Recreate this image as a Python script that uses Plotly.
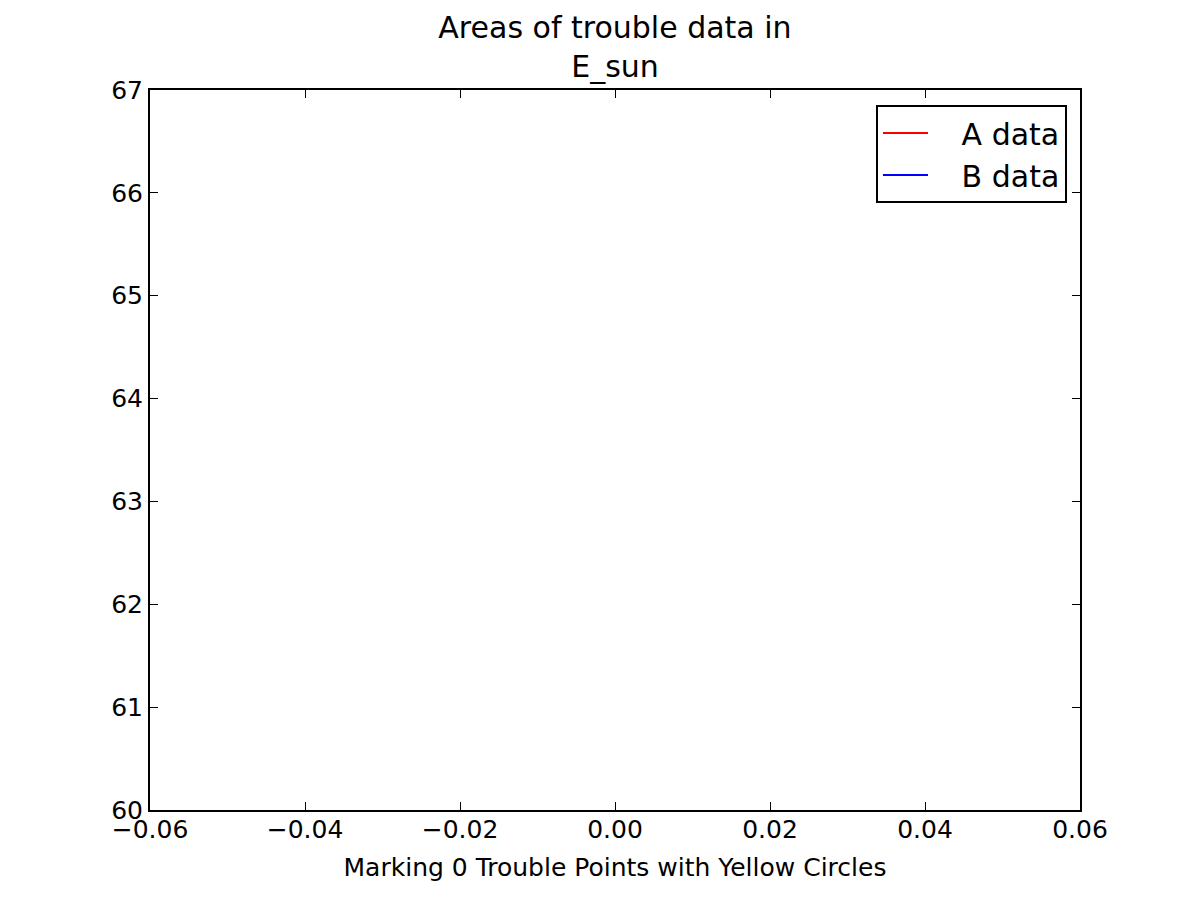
import plotly.graph_objects as go

# Data (the reference chart has no visible plotted points)
a_x = [None]
a_y = [None]
b_x = [None]
b_y = [None]
x_ticks = [-0.06, -0.04, -0.02, 0.00, 0.02, 0.04, 0.06]
y_ticks = [60, 61, 62, 63, 64, 65, 66, 67]
series_names = ["A data", "B data"]
n_trouble = 0

FONT = "DejaVu Sans"
OFF = 8  # default page body margin
PAD = "\u00a0\u00a0\u00a0"  # gap between legend line and label

fig = go.Figure()
fig.add_trace(go.Scatter(x=a_x, y=a_y, mode="lines", name=PAD + series_names[0],
                         line=dict(color="red", width=2)))
fig.add_trace(go.Scatter(x=b_x, y=b_y, mode="lines", name=PAD + series_names[1],
                         line=dict(color="blue", width=2)))

axis_common = dict(
    showline=True, linecolor="black", linewidth=2, mirror="allticks",
    ticks="inside", ticklen=8, tickwidth=1, tickcolor="black",
    showgrid=False, zeroline=False, automargin=False,
    tickfont=dict(family=FONT, size=25, color="black"),
)

fig.update_xaxes(range=[x_ticks[0], x_ticks[-1]], tickvals=x_ticks,
                 tickformat=".2f", ticklabelstandoff=-4,
                 title=dict(text=f"Marking {n_trouble} Trouble Points with Yellow Circles",
                            font=dict(family=FONT, size=25, color="black"),
                            standoff=15),
                 **axis_common)
fig.update_yaxes(range=[y_ticks[0], y_ticks[-1]], tickvals=y_ticks,
                 **axis_common)

fig.update_layout(
    template="none",
    width=1200, height=900,
    paper_bgcolor="white", plot_bgcolor="white",
    margin=dict(l=150 - OFF, r=120 + OFF, t=90 - OFF, b=90 + OFF),
    title=dict(text="Areas of trouble data in<br>E_sun", x=(615 - OFF) / 1200,
               xanchor="center", xref="container",
               y=1 - 30 / 900, yanchor="top", yref="container",
               font=dict(family=FONT, size=30, color="black")),
    showlegend=True,
    legend=dict(x=0.986, y=0.979, xanchor="right", yanchor="top",
                bgcolor="white", bordercolor="black", borderwidth=2,
                font=dict(family=FONT, size=30, color="black"),
                itemwidth=45, tracegroupgap=0),
    font=dict(family=FONT, color="black"),
)

fig.write_html("out.html")
